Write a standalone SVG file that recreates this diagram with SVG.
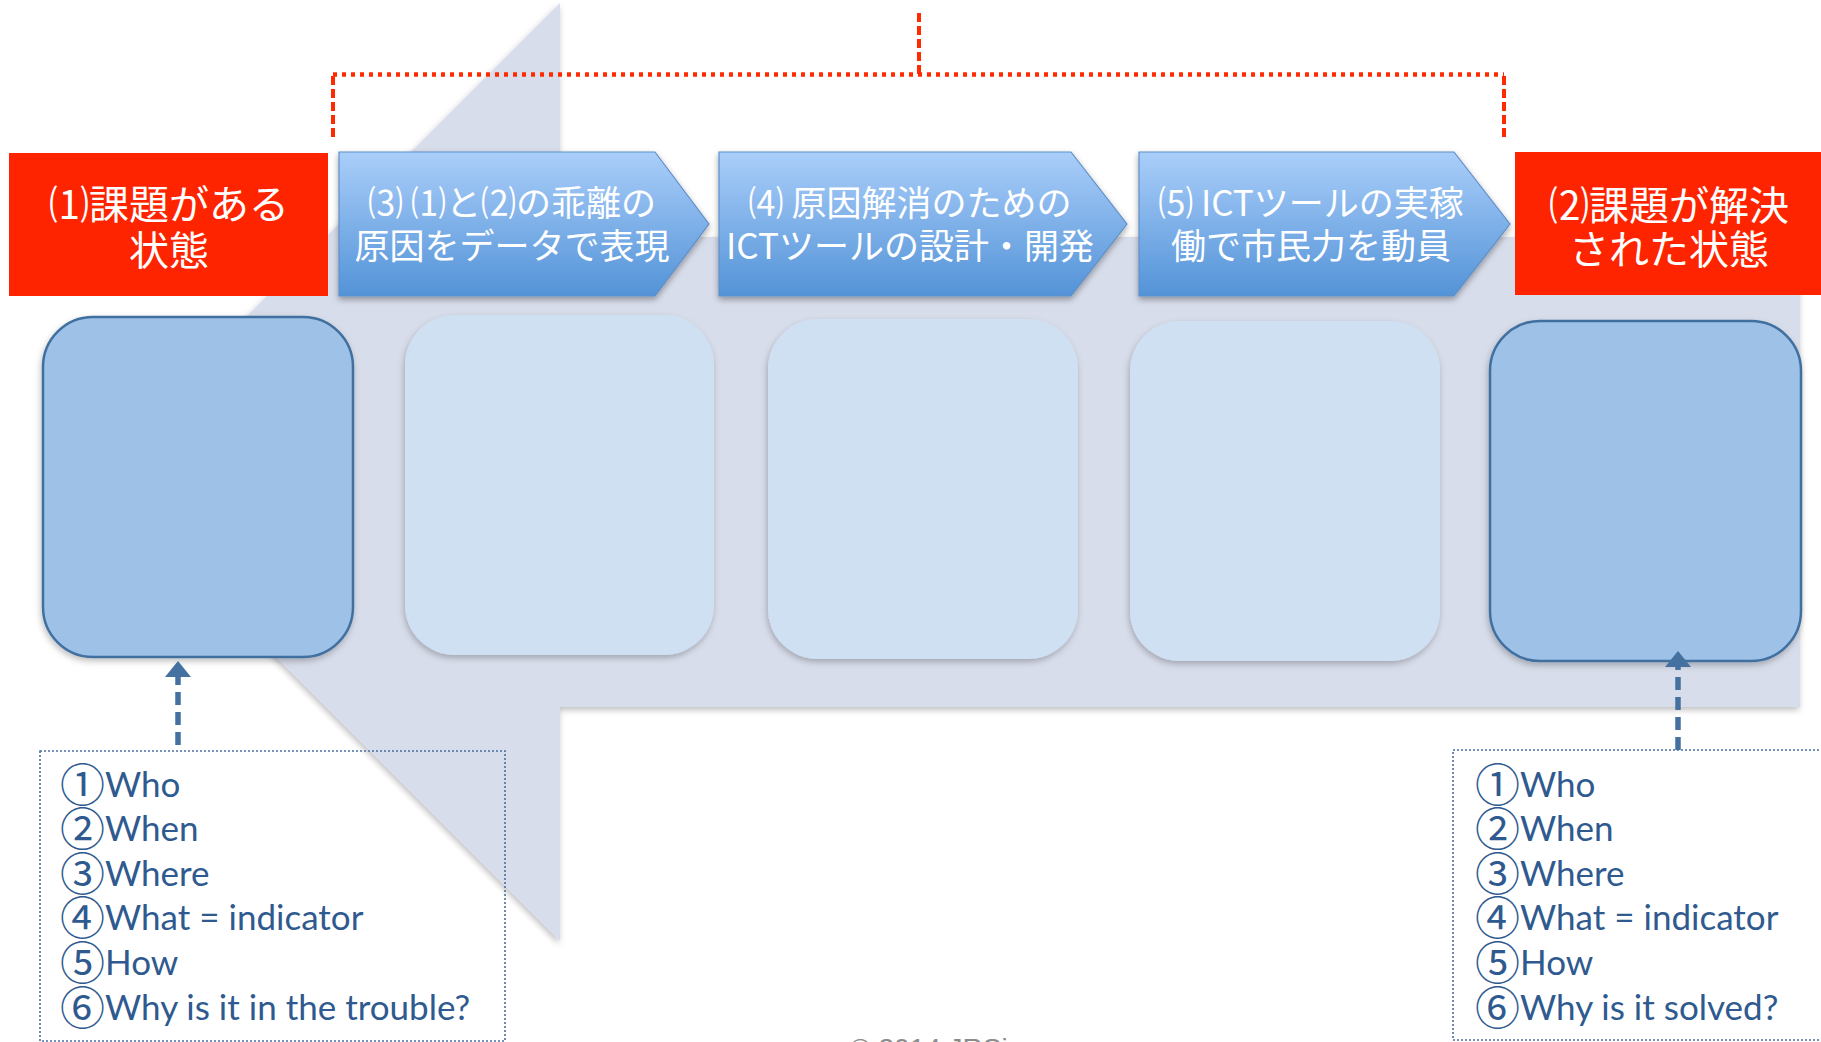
<svg xmlns="http://www.w3.org/2000/svg" width="1821" height="1042" viewBox="0 0 1821 1042">
<defs>
<style>
.jp{font-family:"Noto Sans CJK JP","Noto Sans CJK SC",sans-serif;fill:#fff;text-anchor:middle}
.chev{fill:url(#gBlue);stroke:#5F8FC8;stroke-width:1.2}
.red{fill:#FF2400}
.dark{fill:#9EC1E8;stroke:#41709F;stroke-width:2.5}
.light{fill:#CFE0F2}
.note{fill:none;stroke:#4A6FA0;stroke-width:1.6;stroke-dasharray:2 2}
.lst{font-family:Lato,"Open Sans",sans-serif;font-size:35px;fill:#2F5A8F}
.cd{font-family:"Noto Sans CJK JP",sans-serif;font-size:45px}
.dash{fill:none;stroke:#44719F;stroke-width:5.5;stroke-dasharray:13 7}
.rh{fill:none;stroke:#FF2A00;stroke-width:4.5;stroke-dasharray:4 5}
.rv{fill:none;stroke:#FF2A00;stroke-width:4;stroke-dasharray:9 4}
</style>
<linearGradient id="gBlue" x1="0" y1="0" x2="0" y2="1">
<stop offset="0" stop-color="#AACEFA"/>
<stop offset="1" stop-color="#5393D7"/>
</linearGradient>
<filter id="sh" x="-10%" y="-10%" width="120%" height="130%">
<feDropShadow dx="0" dy="3" stdDeviation="3" flood-color="#000" flood-opacity="0.35"/>
</filter>
<filter id="shs" x="-10%" y="-10%" width="120%" height="130%">
<feDropShadow dx="-1" dy="3" stdDeviation="3" flood-color="#000" flood-opacity="0.25"/>
</filter>
<marker id="ah" viewBox="0 0 16 26" refX="0" refY="13" markerWidth="16" markerHeight="26" markerUnits="userSpaceOnUse" orient="auto">
<path d="M0,0 L16,13 L0,26 Z" fill="#44719F"/>
</marker>
</defs>
<rect width="1821" height="1042" fill="#fff"/>

<g id="big-arrow">
<path d="M560,3 L91,472 L560,941 L560,707 L1800,707 L1800,237 L560,237 Z" fill="#D8DDEB" filter="url(#shs)"/>
</g>

<g id="box-1"><rect class="dark" x="43" y="317" width="310" height="340" rx="50" filter="url(#shs)"/></g>
<g id="box-2"><rect class="light" x="405" y="315" width="309" height="340" rx="50" filter="url(#shs)"/></g>
<g id="box-3"><rect class="light" x="768" y="319" width="310" height="340" rx="50" filter="url(#shs)"/></g>
<g id="box-4"><rect class="light" x="1130" y="321" width="310" height="340" rx="50" filter="url(#shs)"/></g>
<g id="box-5"><rect class="dark" x="1490" y="321" width="311" height="340" rx="50" filter="url(#shs)"/></g>

<g id="state-1">
<rect class="red" x="9" y="153" width="319" height="143"/>
<text class="jp" font-size="40" x="169" y="219">⑴課題がある</text>
<text class="jp" font-size="40" x="169" y="265">状態</text>
</g>

<g id="step-3">
<path class="chev" d="M339,152 H655 L709,224 L655,296 H339 Z" filter="url(#sh)"/>
<text class="jp" font-size="35" x="512" y="216">⑶ ⑴と⑵の乖離の</text>
<text class="jp" font-size="35" x="512" y="259">原因をデータで表現</text>
</g>

<g id="step-4">
<path class="chev" d="M719,152 H1071 L1127,224 L1071,296 H719 Z" filter="url(#sh)"/>
<text class="jp" font-size="35" x="910" y="216">⑷ 原因解消のための</text>
<text class="jp" font-size="35" x="910" y="259">ICTツールの設計・開発</text>
</g>

<g id="step-5">
<path class="chev" d="M1139,152 H1454 L1510,224 L1454,296 H1139 Z" filter="url(#sh)"/>
<text class="jp" font-size="35" x="1311" y="216">⑸ ICTツールの実稼</text>
<text class="jp" font-size="35" x="1311" y="259">働で市民力を動員</text>
</g>

<g id="state-2">
<rect class="red" x="1515" y="152" width="306" height="143"/>
<text class="jp" font-size="40" x="1669" y="220">⑵課題が解決</text>
<text class="jp" font-size="40" x="1669" y="264">された状態</text>
</g>

<g id="note-1">
<rect class="note" x="40" y="751" width="465" height="290"/>
<text class="lst" x="60" y="797"><tspan class="cd" dy="5">①</tspan><tspan dy="-5">Who</tspan></text>
<text class="lst" x="60" y="841"><tspan class="cd" dy="5">②</tspan><tspan dy="-5">When</tspan></text>
<text class="lst" x="60" y="886"><tspan class="cd" dy="5">③</tspan><tspan dy="-5">Where</tspan></text>
<text class="lst" x="60" y="930"><tspan class="cd" dy="5">④</tspan><tspan dy="-5">What = indicator</tspan></text>
<text class="lst" x="60" y="975"><tspan class="cd" dy="5">⑤</tspan><tspan dy="-5">How</tspan></text>
<text class="lst" x="60" y="1020"><tspan class="cd" dy="5">⑥</tspan><tspan dy="-5">Why is it in the trouble?</tspan></text>
</g>

<g id="note-2">
<rect class="note" x="1453" y="750" width="380" height="290"/>
<text class="lst" x="1475" y="797"><tspan class="cd" dy="5">①</tspan><tspan dy="-5">Who</tspan></text>
<text class="lst" x="1475" y="841"><tspan class="cd" dy="5">②</tspan><tspan dy="-5">When</tspan></text>
<text class="lst" x="1475" y="886"><tspan class="cd" dy="5">③</tspan><tspan dy="-5">Where</tspan></text>
<text class="lst" x="1475" y="930"><tspan class="cd" dy="5">④</tspan><tspan dy="-5">What = indicator</tspan></text>
<text class="lst" x="1475" y="975"><tspan class="cd" dy="5">⑤</tspan><tspan dy="-5">How</tspan></text>
<text class="lst" x="1475" y="1020"><tspan class="cd" dy="5">⑥</tspan><tspan dy="-5">Why is it solved?</tspan></text>
</g>

<g id="connectors">
<path class="rh" d="M333,74.5 H1504"/>
<path class="rv" d="M333,76 V138"/>
<path class="rv" d="M1504,76 V138"/>
<path class="rv" d="M919,13 V74"/>
<path class="dash" d="M178,745 V677" marker-end="url(#ah)"/>
<path class="dash" d="M1678,750 V667" marker-end="url(#ah)"/>
</g>

<text x="850" y="1058" font-family="Liberation Sans,Arial,sans-serif" font-size="28" fill="#8C8C8C">© 2014 JRSi</text>
</svg>
